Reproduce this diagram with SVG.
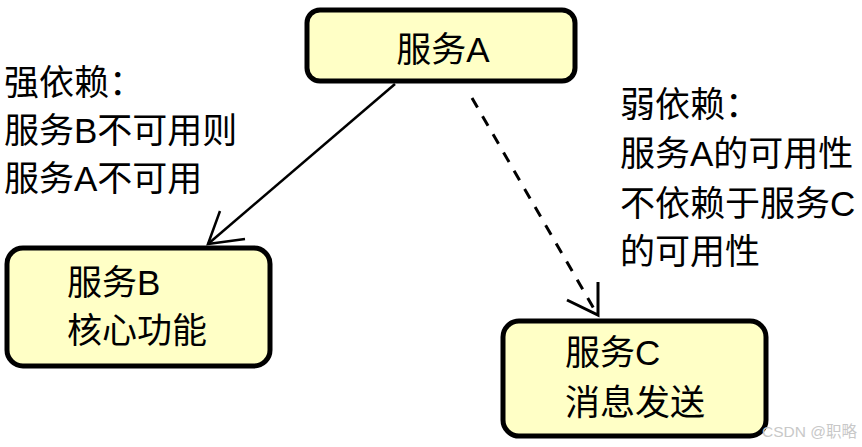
<svg xmlns="http://www.w3.org/2000/svg" width="862" height="447" viewBox="0 0 862 447">
<style>
.box{fill:#ffffc6;stroke:#000;stroke-width:5}
.t{font-family:"Liberation Sans","Noto Sans CJK SC",sans-serif;font-size:35px;fill:#000}
.ln{fill:none;stroke:#000;stroke-width:2.5}
.dash{fill:none;stroke:#000;stroke-width:3;stroke-dasharray:11 10}
</style>
<rect width="862" height="447" fill="#fff"/>
<g id="nodeA">
<rect class="box" x="307" y="10" width="268" height="71" rx="13"/>
<text class="t" x="443" y="62" text-anchor="middle">服务A</text>
</g>
<g id="nodeB">
<rect class="box" x="7" y="248" width="263" height="118" rx="16"/>
<text class="t" x="67" y="295">服务B</text>
<text class="t" x="67" y="343">核心功能</text>
</g>
<g id="nodeC">
<rect class="box" x="503" y="321" width="263" height="115" rx="16"/>
<text class="t" x="565" y="365">服务C</text>
<text class="t" x="565" y="415">消息发送</text>
</g>
<g id="connectors">
<line class="ln" x1="395" y1="84" x2="208" y2="244"/>
<polyline class="ln" points="220,211 208,244 245,239"/>
<line class="dash" x1="472" y1="98" x2="597" y2="314"/>
<polyline class="ln" points="567,300 598,315 598,282" style="stroke-width:3"/>
</g>
<g id="labels">
<text class="t" x="4" y="95">强依赖：</text>
<text class="t" x="4" y="143">服务B不可用则</text>
<text class="t" x="4" y="191">服务A不可用</text>
<text class="t" x="620" y="117">弱依赖：</text>
<text class="t" x="620" y="166">服务A的可用性</text>
<text class="t" x="620" y="216">不依赖于服务C</text>
<text class="t" x="620" y="264">的可用性</text>
</g>
<text x="762" y="437" font-family="Liberation Sans,'Noto Sans CJK SC',sans-serif" font-size="15.5" fill="#c8c8c8">CSDN @职略</text>
</svg>
